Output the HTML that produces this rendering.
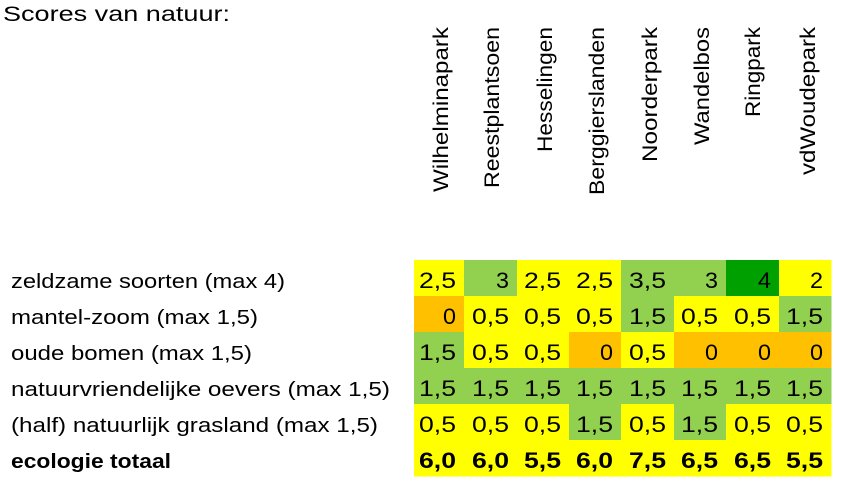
<!DOCTYPE html>
<html><head><meta charset="utf-8"><style>html,body{margin:0;padding:0;background:#fff;}svg{display:block}</style></head>
<body>
<svg width="844" height="486" viewBox="0 0 844 486" xmlns="http://www.w3.org/2000/svg" font-family="Liberation Sans, sans-serif" font-size="20" fill="#000">
<text x="3" y="21" font-size="21" textLength="227" lengthAdjust="spacingAndGlyphs">Scores van natuur:</text>
<g font-size="21">
<text transform="translate(448,27) rotate(-90)" text-anchor="end" textLength="165" lengthAdjust="spacingAndGlyphs">Wilhelminapark</text>
<text transform="translate(499,27) rotate(-90)" text-anchor="end" textLength="161" lengthAdjust="spacingAndGlyphs">Reestplantsoen</text>
<text transform="translate(552,27) rotate(-90)" text-anchor="end" textLength="125" lengthAdjust="spacingAndGlyphs">Hesselingen</text>
<text transform="translate(604,27) rotate(-90)" text-anchor="end" textLength="168" lengthAdjust="spacingAndGlyphs">Berggierslanden</text>
<text transform="translate(657,27) rotate(-90)" text-anchor="end" textLength="135" lengthAdjust="spacingAndGlyphs">Noorderpark</text>
<text transform="translate(709,27) rotate(-90)" text-anchor="end" textLength="118" lengthAdjust="spacingAndGlyphs">Wandelbos</text>
<text transform="translate(760,27) rotate(-90)" text-anchor="end" textLength="90" lengthAdjust="spacingAndGlyphs">Ringpark</text>
<text transform="translate(815,27) rotate(-90)" text-anchor="end" textLength="148" lengthAdjust="spacingAndGlyphs">vdWoudepark</text>
</g>
<g>
<text x="11" y="288" textLength="274" lengthAdjust="spacingAndGlyphs">zeldzame soorten (max 4)</text>
<text x="11" y="324" textLength="247" lengthAdjust="spacingAndGlyphs">mantel-zoom (max 1,5)</text>
<text x="11" y="360" textLength="241" lengthAdjust="spacingAndGlyphs">oude bomen (max 1,5)</text>
<text x="11" y="396" textLength="379" lengthAdjust="spacingAndGlyphs">natuurvriendelijke oevers (max 1,5)</text>
<text x="11" y="432" textLength="367" lengthAdjust="spacingAndGlyphs">(half) natuurlijk grasland (max 1,5)</text>
<text x="11" y="468" font-weight="bold" textLength="160" lengthAdjust="spacingAndGlyphs">ecologie totaal</text>
</g>
<g id="grid" font-size="22"></g>
</svg>
<script>
var Y="#FFFF00",G="#92D050",O="#FFC000",D="#00A000";
var data=[
[["2,5",Y],["3",G],["2,5",Y],["2,5",Y],["3,5",G],["3",G],["4",D],["2",Y]],
[["0",O],["0,5",Y],["0,5",Y],["0,5",Y],["1,5",G],["0,5",Y],["0,5",Y],["1,5",G]],
[["1,5",G],["0,5",Y],["0,5",Y],["0",O],["0,5",Y],["0",O],["0",O],["0",O]],
[["1,5",G],["1,5",G],["1,5",G],["1,5",G],["1,5",G],["1,5",G],["1,5",G],["1,5",G]],
[["0,5",Y],["0,5",Y],["0,5",Y],["1,5",G],["0,5",Y],["1,5",G],["0,5",Y],["0,5",Y]],
[["6,0",Y],["6,0",Y],["5,5",Y],["6,0",Y],["7,5",Y],["6,5",Y],["6,5",Y],["5,5",Y]]];
var xs=[414,464,517,569,621,674,726,779,831];
var g=document.getElementById("grid"),h="";
for(var r=0;r<6;r++){for(var c=0;c<8;c++){var y=260+r*36;
h+='<rect x="'+xs[c]+'" y="'+y+'" width="'+(xs[c+1]-xs[c]+0.5)+'" height="36.5" fill="'+data[r][c][1]+'"/>';}}
for(var r=0;r<6;r++){for(var c=0;c<8;c++){var y=260+r*36;var t=data[r][c][0];
var w=t.length==1?13:37;
h+='<text x="'+(xs[c+1]-8)+'" y="'+(y+28)+'" text-anchor="end"'+(r==5?' font-weight="bold"':'')+' textLength="'+w+'" lengthAdjust="spacingAndGlyphs">'+t+'</text>';}}
g.innerHTML=h;
</script>
</body></html>
